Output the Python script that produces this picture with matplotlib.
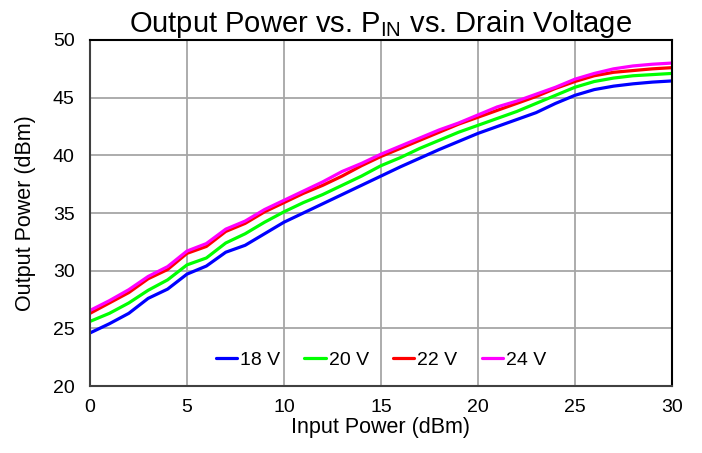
import matplotlib
matplotlib.use("Agg")
import matplotlib.pyplot as plt

plt.rcParams['font.family'] = ['Liberation Sans', 'DejaVu Sans']
plt.rcParams['mathtext.fontset'] = 'custom'
plt.rcParams['mathtext.rm'] = 'Liberation Sans'

pin = list(range(0, 31))
v18 = [24.6, 25.4, 26.3, 27.6, 28.4, 29.7, 30.4, 31.6, 32.2, 33.2, 34.2, 35.0, 35.8, 36.6, 37.4, 38.2,
       39.0, 39.75, 40.5, 41.2, 41.9, 42.5, 43.1, 43.7, 44.5, 45.2, 45.7, 46.0, 46.2, 46.35, 46.45]
v20 = [25.6, 26.3, 27.2, 28.3, 29.2, 30.5, 31.1, 32.4, 33.2, 34.2, 35.1, 35.9, 36.6, 37.4, 38.2, 39.1,
       39.8, 40.6, 41.3, 42.0, 42.6, 43.2, 43.8, 44.5, 45.2, 45.9, 46.4, 46.7, 46.9, 47.0, 47.1]
v22 = [26.3, 27.2, 28.1, 29.3, 30.1, 31.5, 32.1, 33.4, 34.1, 35.1, 35.9, 36.7, 37.4, 38.2, 39.1, 39.9,
       40.6, 41.3, 42.0, 42.7, 43.3, 43.9, 44.5, 45.1, 45.8, 46.4, 46.9, 47.2, 47.35, 47.5, 47.6]
v24 = [26.55, 27.4, 28.35, 29.5, 30.35, 31.7, 32.35, 33.6, 34.3, 35.3, 36.1, 36.9, 37.7, 38.6, 39.3, 40.1,
       40.8, 41.5, 42.2, 42.8, 43.5, 44.2, 44.7, 45.3, 45.9, 46.6, 47.1, 47.5, 47.75, 47.9, 48.0]
labels = ["18 V", "20 V", "22 V", "24 V"]
colors = ["#0000FF", "#00FF00", "#FF0000", "#FF00FF"]
xticks = [0, 5, 10, 15, 20, 25, 30]
yticks = [20, 25, 30, 35, 40, 45, 50]

fig = plt.figure(figsize=(7.02, 4.53), dpi=100)
ax = fig.add_axes([0.1282, 0.1479, 0.957 - 0.1282, 0.9117 - 0.1479])

for ys, lab, c in zip([v18, v20, v22, v24], labels, colors):
    ax.plot(pin, ys, color=c, lw=2.3, label=lab, solid_joinstyle='round', solid_capstyle='round')

ax.set_xlim(0, 30)
ax.set_ylim(20, 50)
ax.set_xticks(xticks)
ax.set_yticks(yticks)
ax.grid(True, color='#A6A6A6', lw=1.3)
ax.set_axisbelow(True)
ax.tick_params(length=0, labelsize=14)
ax.tick_params(axis='y', pad=11)
ax.tick_params(axis='x', pad=9)
for s in ['top', 'right']:
    ax.spines[s].set_color('black')
    ax.spines[s].set_linewidth(1.5)
for s in ['left', 'bottom']:
    ax.spines[s].set_color('#404040')
    ax.spines[s].set_linewidth(1.5)

ax.set_xlabel("Input Power (dBm)", fontsize=15.5, labelpad=1)
ax.set_ylabel("Output Power (dBm)", fontsize=15.5, labelpad=12)
ax.set_title(r"Output Power vs. P$_{\mathrm{IN}}$ vs. Drain Voltage", fontsize=21, pad=4)

ax.legend(loc='lower center', bbox_to_anchor=(0.5, 0.0), ncol=4, frameon=False, fontsize=14,
          handlelength=1.1, handletextpad=0.15, columnspacing=1.25)

fig.savefig("out.png", dpi=100)
